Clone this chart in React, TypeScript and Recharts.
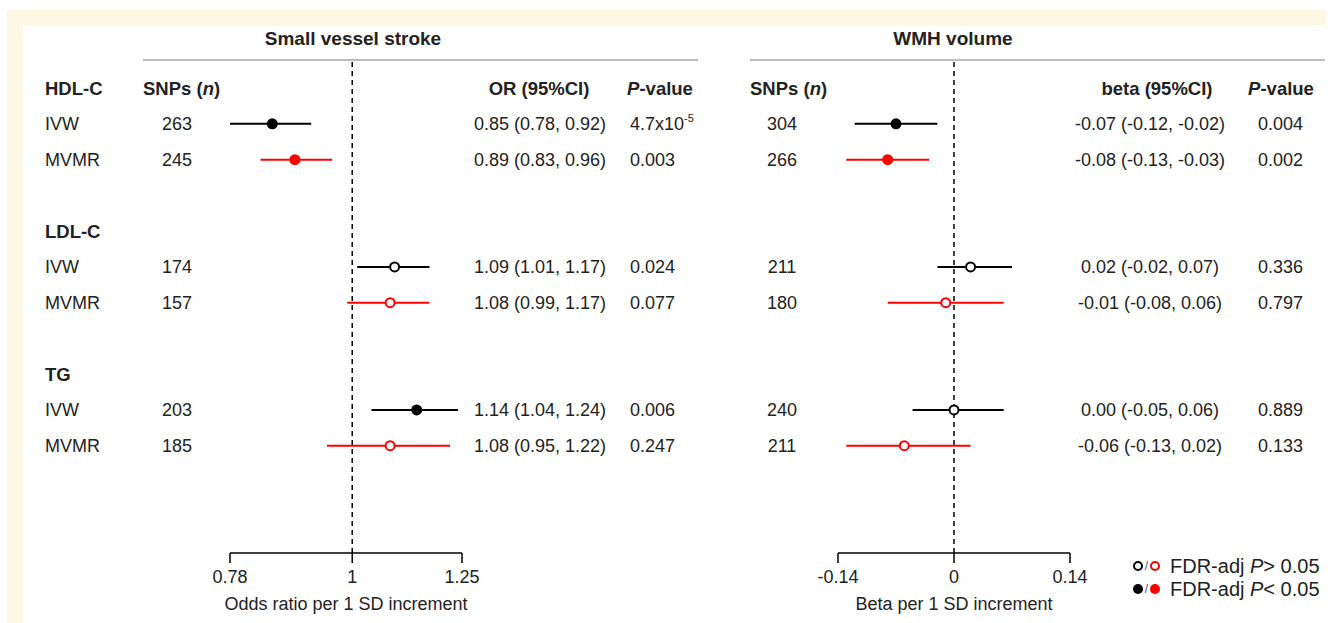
import React from "react";
import { ScatterChart, Scatter, XAxis, YAxis, ErrorBar, ReferenceLine, Label } from "recharts";

const groups = ["HDL-C", "LDL-C", "TG"];
const methods = ["IVW", "MVMR"];

const svsEst = [0.85, 0.89, 1.09, 1.08, 1.14, 1.08];
const svsLow = [0.78, 0.83, 1.01, 0.99, 1.04, 0.95];
const svsHigh = [0.92, 0.96, 1.17, 1.17, 1.24, 1.22];
const svsSnps = [263, 245, 174, 157, 203, 185];
const svsP = ["4.7x10^-5", "0.003", "0.024", "0.077", "0.006", "0.247"];
const svsSig = [true, true, false, false, true, false];
const svsTicks = [0.78, 1, 1.25];

const wmhEst = [-0.07, -0.08, 0.02, -0.01, 0.0, -0.06];
const wmhLow = [-0.12, -0.13, -0.02, -0.08, -0.05, -0.13];
const wmhHigh = [-0.02, -0.03, 0.07, 0.06, 0.06, 0.02];
const wmhSnps = [304, 266, 211, 180, 240, 211];
const wmhP = ["0.004", "0.002", "0.336", "0.797", "0.889", "0.133"];
const wmhSig = [true, true, false, false, false, false];
const wmhTicks = [-0.14, 0, 0.14];

const FONT = "'Liberation Sans', Arial, sans-serif";
const TXT = "#222";
const RED = "#ff0000";
const W = 1341;
const H = 623;
const FS = 18;
const FSH = 18.5;

const leftCfg = {
  title: "Small vessel stroke", titleX: 353, lineX1: 143, lineX2: 698,
  nHeadX: 143, nX: 177, estHead: "OR (95%CI)", estHeadX: 539, estX: 540,
  pHeadX: 660, pX: 630, showGroups: true,
  plotLeft: 230, plotRight: 462,
};
const rightCfg = {
  title: "WMH volume", titleX: 953, lineX1: 750, lineX2: 1325,
  nHeadX: 750, nX: 782, estHead: "beta (95%CI)", estHeadX: 1157, estX: 1150,
  pHeadX: 1281, pX: 1258, showGroups: false,
  plotLeft: 838, plotRight: 1070,
};

const fmt = (v: number) => v.toFixed(2);

function PText({ x, y, value }: { x: number; y: number; value: string }) {
  const parts = value.split("^");
  return (
    <text x={x} y={y} dy="0.35em" fontSize={FS} fill={TXT} fontFamily={FONT} textAnchor="start">
      {parts[0]}
      {parts[1] ? (
        <tspan fontSize={11} dy={-8}>{parts[1]}</tspan>
      ) : null}
    </text>
  );
}

function Panel(props: any) {
  const { cfg, est, low, high, snps, pv, sig, domain, ticks, scale, ref0, xLabel } = props;
  const rows = est.map((e: number, i: number) => ({
    x: e,
    y: 4 * Math.floor(i / 2) + 1 + (i % 2),
    err: [e - low[i], high[i] - e],
    sig: sig[i],
    method: i % 2,
    n: snps[i],
    p: pv[i],
    ci: `${fmt(e)} (${fmt(low[i])}, ${fmt(high[i])})`,
  }));
  const ivw = rows.filter((r: any) => r.method === 0);
  const mvmr = rows.filter((r: any) => r.method === 1);
  const textRows = [
    ...groups.map((g, gi) => ({ x: ref0, y: 4 * gi, kind: "group", label: g, gi })),
    ...rows.map((r: any) => ({ x: ref0, y: r.y, kind: "row", label: methods[r.method], r })),
  ];

  const textShape = (sp: any) => {
    const { cy, payload } = sp;
    if (payload.kind === "group") {
      return (
        <g>
          {cfg.showGroups ? (
            <text x={45} y={cy} dy="0.35em" fontSize={FSH} fontWeight="bold" fill={TXT} fontFamily={FONT}>
              {payload.label}
            </text>
          ) : null}
          {payload.gi === 0 ? (
            <g fontFamily={FONT} fontSize={FSH} fontWeight="bold" fill={TXT}>
              <text x={cfg.titleX} y={cy - 50} dy="0.35em" textAnchor="middle" fontSize={19}>{cfg.title}</text>
              <line x1={cfg.lineX1} x2={cfg.lineX2} y1={cy - 28} y2={cy - 28} stroke="#bdbdbd" strokeWidth={2} />
              <text x={cfg.nHeadX} y={cy} dy="0.35em">
                SNPs (<tspan fontStyle="italic">n</tspan>)
              </text>
              <text x={cfg.estHeadX} y={cy} dy="0.35em" textAnchor="middle">{cfg.estHead}</text>
              <text x={cfg.pHeadX} y={cy} dy="0.35em" textAnchor="middle">
                <tspan fontStyle="italic">P</tspan>-value
              </text>
            </g>
          ) : null}
        </g>
      );
    }
    const r = payload.r;
    return (
      <g fontFamily={FONT} fontSize={FS} fill={TXT}>
        {cfg.showGroups ? (
          <text x={45} y={cy} dy="0.35em">{payload.label}</text>
        ) : null}
        <text x={cfg.nX} y={cy} dy="0.35em" textAnchor="middle">{r.n}</text>
        <text x={cfg.estX} y={cy} dy="0.35em" textAnchor="middle">{r.ci}</text>
        <PText x={cfg.pX} y={cy} value={r.p} />
      </g>
    );
  };

  const dot = (color: string) => (sp: any) => {
    const { cx, cy, payload } = sp;
    return payload.sig ? (
      <circle cx={cx} cy={cy} r={5.5} fill={color} stroke="none" />
    ) : (
      <circle cx={cx} cy={cy} r={4.5} fill="#fff" stroke={color} strokeWidth={2} />
    );
  };

  return (
    <div style={{ position: "absolute", left: 0, top: 0 }}>
      <ScatterChart
        width={W}
        height={H}
        margin={{ top: 62, bottom: 0, left: cfg.plotLeft, right: W - cfg.plotRight }}
      >
        <XAxis
          type="number"
          dataKey="x"
          scale={scale}
          domain={domain}
          ticks={ticks}
          height={70}
          tickSize={10}
          tickMargin={7}
          axisLine={{ stroke: "#000", strokeWidth: 1.5 }}
          tickLine={{ stroke: "#000", strokeWidth: 1.5 }}
          tick={{ fill: TXT, fontSize: FS, fontFamily: FONT }}
          tickFormatter={(v: number) => String(v)}
        >
          <Label value={xLabel} position="insideBottom" offset={13} fill={TXT} fontSize={FS} fontFamily={FONT} />
        </XAxis>
        <YAxis type="number" dataKey="y" domain={[-0.73, 13]} reversed hide />
        <ReferenceLine x={ref0} stroke="#000" strokeWidth={1.5} strokeDasharray="5 4" />
        <Scatter data={textRows} shape={textShape} isAnimationActive={false} />
        <Scatter data={ivw} shape={dot("#000")} isAnimationActive={false}>
          <ErrorBar dataKey="err" direction="x" width={0} stroke="#000" strokeWidth={2} />
        </Scatter>
        <Scatter data={mvmr} shape={dot(RED)} isAnimationActive={false}>
          <ErrorBar dataKey="err" direction="x" width={0} stroke={RED} strokeWidth={2} />
        </Scatter>
      </ScatterChart>
    </div>
  );
}

function LegendBox() {
  return (
    <svg width={W} height={H} style={{ position: "absolute", left: 0, top: 0, pointerEvents: "none" }}>
      <g fontFamily={FONT} fontSize={20} fill={TXT}>
        <circle cx={1138} cy={566} r={4} fill="#fff" stroke="#000" strokeWidth={2} />
        <text x={1146.5} y={566} dy="0.35em" fontSize={12} textAnchor="middle" fill="#555">/</text>
        <circle cx={1155} cy={566} r={4} fill="#fff" stroke={RED} strokeWidth={2} />
        <text x={1170} y={566} dy="0.35em">
          FDR-adj <tspan fontStyle="italic">P</tspan>{"> 0.05"}
        </text>
        <circle cx={1138} cy={589} r={5} fill="#000" />
        <text x={1146.5} y={589} dy="0.35em" fontSize={12} textAnchor="middle" fill="#555">/</text>
        <circle cx={1155} cy={589} r={5} fill={RED} />
        <text x={1170} y={589} dy="0.35em">
          FDR-adj <tspan fontStyle="italic">P</tspan>{"< 0.05"}
        </text>
      </g>
    </svg>
  );
}

export default function App() {
  return (
    <div style={{ position: "absolute", left: 0, top: 0, width: W, height: H, background: "#fff", overflow: "hidden" }}>
      <div style={{ position: "absolute", left: 7, top: 10, width: 1319, height: H, background: "#fdf8e3" }} />
      <div style={{ position: "absolute", left: 23, top: 25, width: W, height: H, background: "#fff" }} />
      <Panel
        cfg={leftCfg}
        est={svsEst}
        low={svsLow}
        high={svsHigh}
        snps={svsSnps}
        pv={svsP}
        sig={svsSig}
        domain={[0.78, 1.25]}
        ticks={svsTicks}
        scale="log"
        ref0={1}
        xLabel="Odds ratio per 1 SD increment"
      />
      <Panel
        cfg={rightCfg}
        est={wmhEst}
        low={wmhLow}
        high={wmhHigh}
        snps={wmhSnps}
        pv={wmhP}
        sig={wmhSig}
        domain={[-0.14, 0.14]}
        ticks={wmhTicks}
        scale="linear"
        ref0={0}
        xLabel="Beta per 1 SD increment"
      />
      <LegendBox />
    </div>
  );
}
